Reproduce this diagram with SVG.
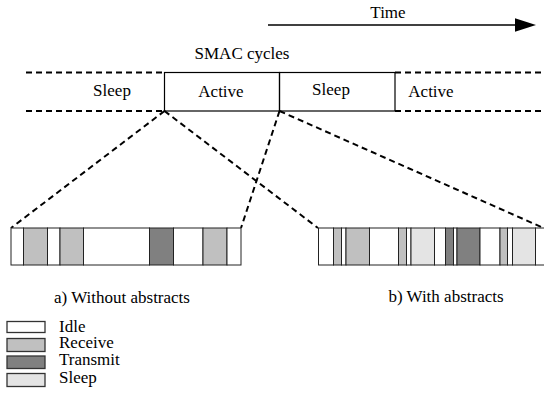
<svg xmlns="http://www.w3.org/2000/svg" width="544" height="394" viewBox="0 0 544 394">
  <style>
    text { font-family: "Liberation Serif", "Times New Roman", serif; font-size: 17px; fill: #000; }
    .dash { stroke: #000; stroke-width: 2; stroke-dasharray: 6 4; fill: none; }
    .seg { stroke: #222; stroke-width: 1; }
    .idle { fill: #ffffff; }
    .recv { fill: #c0c0c0; }
    .tx { fill: #808080; }
    .sleep { fill: #e4e4e4; }
    .leg { stroke: #333; stroke-width: 1.3; }
  </style>

  <!-- time axis -->
  <g id="time-axis">
    <line x1="268" y1="25" x2="516" y2="25" stroke="#000" stroke-width="1.3"/>
    <polygon points="515,18.3 536,25 515,31.7" fill="#000"/>
    <text x="388" y="18" text-anchor="middle">Time</text>
  </g>

  <!-- SMAC cycle strip -->
  <g id="smac-cycles">
    <text x="242" y="59" text-anchor="middle">SMAC cycles</text>
    <line class="dash" x1="26" y1="72.5" x2="164" y2="72.5"/>
    <line class="dash" x1="26" y1="111" x2="164" y2="111"/>
    <line class="dash" x1="395" y1="72.5" x2="544" y2="72.5"/>
    <line class="dash" x1="395" y1="111" x2="544" y2="111"/>
    <rect x="164.5" y="72.5" width="115" height="38.5" fill="none" stroke="#000" stroke-width="1.2"/>
    <rect x="279.5" y="72.5" width="115.5" height="38.5" fill="none" stroke="#000" stroke-width="1.2"/>
    <text x="112" y="96" text-anchor="middle">Sleep</text>
    <text x="221" y="97" text-anchor="middle">Active</text>
    <text x="331" y="95" text-anchor="middle">Sleep</text>
    <text x="431" y="97" text-anchor="middle">Active</text>
  </g>

  <!-- zoom connectors -->
  <g id="connectors">
    <line class="dash" x1="164.5" y1="111" x2="11" y2="228"/>
    <line class="dash" x1="164.5" y1="111" x2="318" y2="228"/>
    <line class="dash" x1="279.5" y1="111" x2="241" y2="228"/>
    <line class="dash" x1="279.5" y1="111" x2="548" y2="230"/>
  </g>

  <!-- a) without abstracts -->
  <g id="bar-a">
    <rect class="seg idle" x="11" y="228" width="12.5" height="37"/>
    <rect class="seg recv" x="23.5" y="228" width="24" height="37"/>
    <rect class="seg idle" x="47.5" y="228" width="12.5" height="37"/>
    <rect class="seg recv" x="60" y="228" width="23.5" height="37"/>
    <rect class="seg idle" x="83.5" y="228" width="66" height="37"/>
    <rect class="seg tx" x="149.5" y="228" width="24" height="37"/>
    <rect class="seg idle" x="173.5" y="228" width="29.5" height="37"/>
    <rect class="seg recv" x="203" y="228" width="24" height="37"/>
    <rect class="seg idle" x="227" y="228" width="14" height="37"/>
    <text x="122" y="303" text-anchor="middle">a) Without abstracts</text>
  </g>

  <!-- b) with abstracts -->
  <g id="bar-b">
    <rect class="seg idle" x="318.5" y="228" width="15" height="37"/>
    <rect class="seg recv" x="333.5" y="228" width="8" height="37"/>
    <rect class="seg idle" x="341.5" y="228" width="4.5" height="37"/>
    <rect class="seg recv" x="346" y="228" width="23.5" height="37"/>
    <rect class="seg idle" x="369.5" y="228" width="29" height="37"/>
    <rect class="seg recv" x="398.5" y="228" width="8" height="37"/>
    <rect class="seg idle" x="406.5" y="228" width="4.5" height="37"/>
    <rect class="seg sleep" x="411" y="228" width="23.5" height="37"/>
    <rect class="seg idle" x="434.5" y="228" width="11" height="37"/>
    <rect class="seg tx" x="445.5" y="228" width="8" height="37"/>
    <rect class="seg idle" x="453.5" y="228" width="3.5" height="37"/>
    <rect class="seg tx" x="457" y="228" width="23" height="37"/>
    <rect class="seg idle" x="480" y="228" width="20" height="37"/>
    <rect class="seg recv" x="500" y="228" width="7.5" height="37"/>
    <rect class="seg idle" x="507.5" y="228" width="5" height="37"/>
    <rect class="seg sleep" x="512.5" y="228" width="23" height="37"/>
    <rect class="seg idle" x="535.5" y="228" width="10" height="37"/>
    <text x="446" y="302" text-anchor="middle">b) With abstracts</text>
  </g>

  <!-- legend -->
  <g id="legend">
    <rect class="leg idle" x="7" y="321.5" width="38" height="11"/>
    <rect class="leg recv" x="7" y="338.5" width="38" height="13"/>
    <rect class="leg tx" x="7" y="356" width="38" height="12.5"/>
    <rect class="leg sleep" x="7" y="373.5" width="38" height="13"/>
    <text x="59" y="332">Idle</text>
    <text x="59" y="348">Receive</text>
    <text x="59" y="365">Transmit</text>
    <text x="59" y="383">Sleep</text>
  </g>
</svg>
